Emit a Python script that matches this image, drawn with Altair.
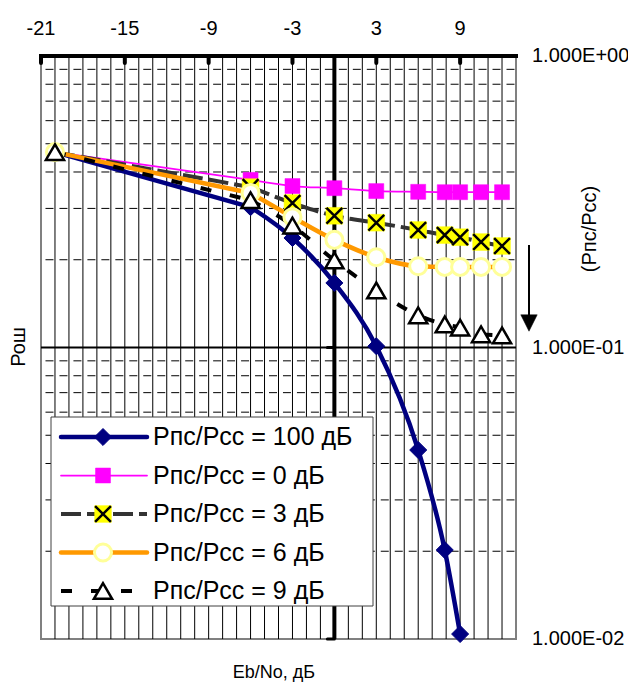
import altair as alt
import pandas as pd

# ---------------- data ----------------
x_pts = [-20, -6, -3, 0, 3, 6, 7.9, 9, 10.5, 12]
x_100 = [-20, -6, -3, 0, 3, 6, 7.9, 9]
y_100 = [0.468, 0.303, 0.2375, 0.1665, 0.101, 0.0445, 0.0202, 0.0104]
y_0 = [0.468, 0.376, 0.358, 0.352, 0.344, 0.342, 0.341, 0.341, 0.341, 0.341]
y_3 = [0.468, 0.355, 0.313, 0.283, 0.268, 0.253, 0.243, 0.239, 0.230, 0.223]
y_6 = [0.468, 0.339, 0.280, 0.234, 0.204, 0.190, 0.189, 0.189, 0.189, 0.189]
y_9 = [0.468, 0.320, 0.262, 0.199, 0.157, 0.129, 0.120, 0.117, 0.111, 0.110]
series_names = ["Рпс/Рсс = 100 дБ", "Рпс/Рсс = 0 дБ", "Рпс/Рсс = 3 дБ",
                "Рпс/Рсс = 6 дБ", "Рпс/Рсс = 9 дБ"]
x_ticks = [-21, -15, -9, -3, 3, 9]
x_tick_labels = ["-21", "-15", "-9", "-3", "3", "9"]
x_grid = list(range(-20, 13))
y_ticks = [1, 0.1, 0.01]
y_tick_labels = ["1.000E+00", "1.000E-01", "1.000E-02"]
y_minor = [m * d for d in (0.01, 0.1) for m in range(2, 10)]
x_title = "Eb/No, дБ"
y_title = "Рош"
side_label = "(Рпс/Рсс)"

# ---------------- setup ----------------
FONT = "Liberation Sans"
W, H = 475, 583
xs = alt.Scale(domain=[-21, 13], nice=False, zero=False)
ys = alt.Scale(type="log", domain=[0.01, 1], nice=False)


def X():
    return alt.X("x:Q", scale=xs, axis=None)


def Y():
    return alt.Y("y:Q", scale=ys, axis=None)


one = pd.DataFrame({"k": [0]})
layers = []

# grid
layers.append(alt.Chart(pd.DataFrame({"x": x_grid})).mark_rule(
    color="black", strokeWidth=1).encode(x=X()))
layers.append(alt.Chart(pd.DataFrame({"y": y_minor})).mark_rule(
    color="black", strokeWidth=1, strokeDash=[8, 5.97], strokeDashOffset=-1.5).encode(y=Y()))

# heavy lines
layers.append(alt.Chart(pd.DataFrame({"y": [y_ticks[1]]})).mark_rule(
    color="black", strokeWidth=2).encode(y=Y()))
layers.append(alt.Chart(pd.DataFrame({"y": [y_ticks[0]]})).mark_rule(
    color="black", strokeWidth=4, strokeCap="square").encode(y=Y()))
layers.append(alt.Chart(pd.DataFrame({"x": [0]})).mark_rule(
    color="black", strokeWidth=4).encode(x=X()))
# top ticks
layers.append(alt.Chart(pd.DataFrame({"x": x_ticks})).mark_rule(
    color="black", strokeWidth=4, strokeCap="round").encode(
    x=X(), y=alt.value(0), y2=alt.value(7)))
# small y ticks on the x=0 axis
layers.append(alt.Chart(pd.DataFrame({"x": [0, 0], "y": y_ticks[1:]})).mark_rule(
    color="black", strokeWidth=3, xOffset=-7, strokeCap="round").encode(
    x=X(), x2="x:Q", y=Y()))

# tick labels (top x, right y)
layers.append(alt.Chart(pd.DataFrame({"x": x_ticks, "t": x_tick_labels})).mark_text(
    align="center", baseline="middle", font=FONT, fontSize=20, color="black").encode(
    x=X(), y=alt.value(-27), text="t:N"))
layers.append(alt.Chart(pd.DataFrame({"y": y_ticks, "t": y_tick_labels})).mark_text(
    align="left", baseline="middle", font=FONT, fontSize=20, color="black").encode(
    y=Y(), x=alt.value(491), text="t:N"))

# series styles
styles = [
    dict(line=dict(color="#000080", strokeWidth=4.5),
         marks=[dict(shape="diamond", filled=True, fill="#000080", stroke="#000080",
                     strokeWidth=1, size=290)]),
    dict(line=dict(color="#FF00FF", strokeWidth=1.75),
         marks=[dict(shape="square", filled=True, fill="#FF00FF", stroke="#FF00FF",
                     strokeWidth=0.5, size=225)]),
    dict(line=dict(color="#333333", strokeWidth=4, strokeDash=[20, 6]),
         marks=[dict(shape="square", filled=True, fill="#FFFF00", stroke="#FFFF00",
                     strokeWidth=0.5, size=280),
                dict(shape="M-1,-1L1,1M-1,1L1,-1", filled=False, stroke="black",
                     strokeWidth=2.5, size=250)]),
    dict(line=dict(color="#FF9900", strokeWidth=4.5),
         marks=[dict(shape="circle", filled=True, fill="white", stroke="#FFFF99",
                     strokeWidth=3, size=290)]),
    dict(line=dict(color="black", strokeWidth=4, strokeDash=[11, 19]),
         marks=[dict(shape="triangle-up", filled=True, fill="white", stroke="black",
                     strokeWidth=2.5, size=330)]),
]
xs_list = [x_100, x_pts, x_pts, x_pts, x_pts]
ys_list = [y_100, y_0, y_3, y_6, y_9]
skip_first = [True, True, True, False, False]

dfs = [pd.DataFrame({"x": xv, "y": yv}) for xv, yv in zip(xs_list, ys_list)]

for df, st in zip(dfs, styles):
    # first long segment straight, the rest smoothed
    layers.append(alt.Chart(df.iloc[:2]).mark_line(interpolate="linear", **st["line"]).encode(
        x=X(), y=Y()))
    layers.append(alt.Chart(df.iloc[1:]).mark_line(interpolate="monotone", **st["line"]).encode(
        x=X(), y=Y()))
for df, st, sk in zip(dfs, styles, skip_first):
    d = df.iloc[1:] if sk else df
    for m in st["marks"]:
        layers.append(alt.Chart(d).mark_point(opacity=1, **m).encode(x=X(), y=Y()))

# legend (manual, to reproduce combined line+marker symbols)
layers.append(alt.Chart(one).mark_rect(fill="white", stroke="#404040", strokeWidth=1).encode(
    x=alt.value(10), x2=alt.value(332), y=alt.value(361), y2=alt.value(550)))
row_y = [381, 419.5, 458, 496.5, 535]
for name, st, ry in zip(series_names, styles, row_y):
    lst = dict(st["line"])
    if "strokeDash" not in lst:
        lst["strokeCap"] = "round"
    layers.append(alt.Chart(one).mark_rule(**lst).encode(
        x=alt.value(20), x2=alt.value(106), y=alt.value(ry)))
    for m in st["marks"]:
        layers.append(alt.Chart(one).mark_point(opacity=1, **m).encode(
            x=alt.value(62), y=alt.value(ry)))
    layers.append(alt.Chart(pd.DataFrame({"t": [name]})).mark_text(
        align="left", baseline="middle", font=FONT, fontSize=25, color="black").encode(
        x=alt.value(112), y=alt.value(ry), text="t:N"))

# titles and annotation
layers.append(alt.Chart(pd.DataFrame({"t": [x_title]})).mark_text(
    align="center", baseline="middle", font=FONT, fontSize=18, color="black").encode(
    x=alt.value(233), y=alt.value(617), text="t:N"))
layers.append(alt.Chart(pd.DataFrame({"t": [y_title]})).mark_text(
    align="center", baseline="middle", font=FONT, fontSize=20, color="black", angle=270).encode(
    x=alt.value(-22), y=alt.value(291), text="t:N"))
layers.append(alt.Chart(pd.DataFrame({"t": [side_label]})).mark_text(
    align="center", baseline="middle", font=FONT, fontSize=20, color="black", angle=270).encode(
    x=alt.value(549), y=alt.value(173), text="t:N"))
layers.append(alt.Chart(one).mark_rule(color="black", strokeWidth=2).encode(
    x=alt.value(488), y=alt.value(189), y2=alt.value(261)))
layers.append(alt.Chart(one).mark_point(shape="M-1,-1L1,-1L0,1Z", filled=True, fill="black",
                                        stroke="black", strokeWidth=0.5, size=270, opacity=1).encode(
    x=alt.value(488), y=alt.value(267)))

chart = alt.layer(*layers).properties(
    width=W, height=H,
    padding={"left": 33, "top": 48, "right": 112, "bottom": 43},
    autosize="none",
    background="white",
).configure_view(stroke="#808080", strokeWidth=2)

chart.save("out.html", embed_options={"renderer": "svg", "actions": False})
